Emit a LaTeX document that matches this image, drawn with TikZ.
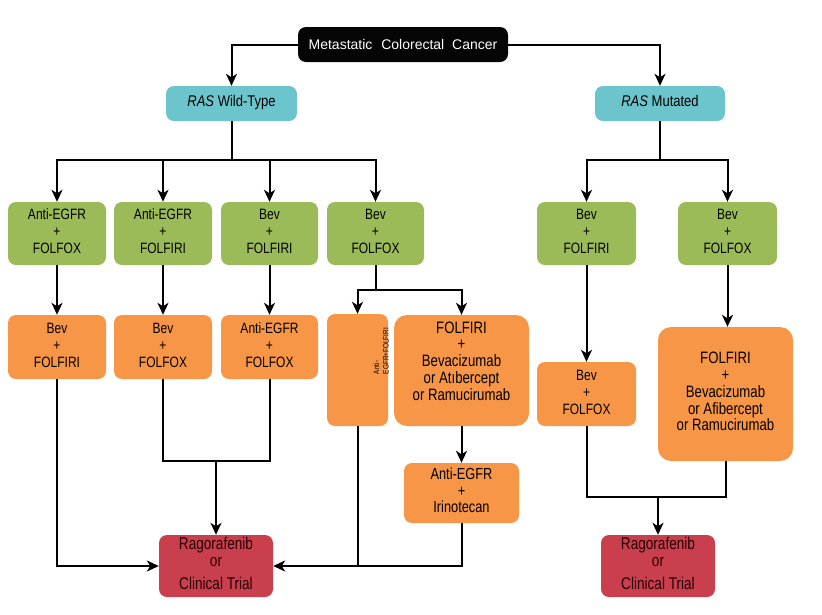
\documentclass[tikz,border=0pt]{standalone}
\usepackage{fontspec}
\setmainfont{Liberation Sans}
\usetikzlibrary{arrows.meta}
\definecolor{topblack}{HTML}{050505}
\definecolor{teal1}{HTML}{6CC5CC}
\definecolor{green1}{HTML}{9BBB59}
\definecolor{orange1}{HTML}{F79646}
\definecolor{red1}{HTML}{C93F4E}
\newcommand{\nar}[2][0.8]{\scalebox{#1}[1]{\begin{tabular}{@{}c@{}}#2\end{tabular}}}
\tikzset{
  box/.style={rounded corners=8pt, inner sep=0pt, align=center, text=black,
    font=\fontsize{15}{17}\selectfont},
  topbox/.style={box, fill=topblack, text=white, font=\fontsize{14}{17}\selectfont},
  rasbox/.style={box, fill=teal1, font=\fontsize{15.5}{17}\selectfont},
  greenbox/.style={box, fill=green1},
  orangebox/.style={box, fill=orange1},
  bigbox/.style={box, fill=orange1, rounded corners=13pt, font=\fontsize{16.5}{16.5}\selectfont},
  redbox/.style={box, fill=red1, text=black!85!red, font=\fontsize{17}{17}\selectfont},
  conn/.style={line width=2pt, black},
  arr/.style={conn, -{Stealth[length=12pt,width=11pt,inset=3.5pt]}},
}
\begin{document}
\begin{tikzpicture}[x=1pt,y=-1pt]
\useasboundingbox (0,0) rectangle (822,614);
% nodes
\node[topbox, minimum width=210pt, minimum height=35pt] (top) at (403,44.5) {Metastatic\hspace{5pt} Colorectal\hspace{4pt} Cancer};
\node[rasbox, minimum width=131pt, minimum height=35pt] (wt) at (231.5,103.5) {\nar[0.84]{\textit{RAS} Wild-Type}};
\node[rasbox, minimum width=130pt, minimum height=35pt] (mut) at (660,103.5) {\nar[0.84]{\textit{RAS} Mutated}};

\node[greenbox, minimum width=98pt, minimum height=63pt] (g1) at (57,233.5) {\nar{Anti-EGFR\\+\\FOLFOX}};
\node[greenbox, minimum width=98pt, minimum height=63pt] (g2) at (163,233.5) {\nar{Anti-EGFR\\+\\FOLFIRI}};
\node[greenbox, minimum width=97pt, minimum height=63pt] (g3) at (269.5,233.5) {\nar{Bev\\+\\FOLFIRI}};
\node[greenbox, minimum width=97pt, minimum height=63pt] (g4) at (375.5,233.5) {\nar{Bev\\+\\FOLFOX}};
\node[greenbox, minimum width=99pt, minimum height=63pt] (g5) at (586.5,233.5) {\nar{Bev\\+\\FOLFIRI}};
\node[greenbox, minimum width=99pt, minimum height=63pt] (g6) at (727.5,233.5) {\nar{Bev\\+\\FOLFOX}};

\node[orangebox, minimum width=98pt, minimum height=64pt] (o1) at (57,347) {\nar{Bev\\+\\FOLFIRI}};
\node[orangebox, minimum width=98pt, minimum height=64pt] (o2) at (163,347) {\nar{Bev\\+\\FOLFOX}};
\node[orangebox, minimum width=97pt, minimum height=64pt] (o3) at (269.5,347) {\nar{Anti-EGFR\\+\\FOLFOX}};
\node[orangebox, minimum width=61pt, minimum height=112pt] (o4) at (357.5,370) {};
\node[rotate=90, inner sep=0pt, font=\fontsize{7.8}{9.5}\selectfont] (o4t) at (382,351) {\scalebox{0.82}[1]{\begin{tabular}{@{}l@{}}Anti-\\EGFR+FOLFIRI\end{tabular}}};
\node[bigbox, minimum width=135pt, minimum height=111pt] (o5) at (461.5,370.5) {\nar{FOLFIRI\\+\\Bevacizumab\\or Atıbercept\\or Ramucirumab\\[14pt]}};
\node[orangebox, minimum width=115pt, minimum height=60pt, font=\fontsize{16}{16.5}\selectfont] (o6) at (461.5,493) {\nar{Anti-EGFR\\+\\Irinotecan}};
\node[orangebox, minimum width=99pt, minimum height=64pt] (o7) at (586.5,394) {\nar{Bev\\+\\FOLFOX}};
\node[bigbox, minimum width=135pt, minimum height=134pt] (o8) at (725.5,394) {\nar{FOLFIRI\\+\\Bevacizumab\\or Afibercept\\or Ramucirumab}};

\node[redbox, minimum width=114pt, minimum height=62pt] (r1) at (216,566) {\nar{Ragorafenib\\or\\[6pt]Clinical Trial}};
\node[redbox, minimum width=114pt, minimum height=62pt] (r2) at (658,566) {\nar{Ragorafenib\\or\\[6pt]Clinical Trial}};

% junction coordinates
\coordinate (bw) at (231.5,160);
\coordinate (bm) at (660,160);
\coordinate (b4) at (375.5,290);
\coordinate (j1) at (216,461);
\coordinate (j2) at (658,497);

% connectors
\draw[arr] (top.west) -| (wt.north);
\draw[arr] (top.east) -| (mut.north);
\draw[conn] (wt.south) -- (bw);
\draw[arr] (bw) -| (g1.north);
\draw[arr] (bw) -| (g2.north);
\draw[arr] (bw) -| (g3.north);
\draw[arr] (bw) -| (g4.north);
\draw[conn] (mut.south) -- (bm);
\draw[arr] (bm) -| (g5.north);
\draw[arr] (bm) -| (g6.north);

\draw[arr] (g1.south) -- (o1.north);
\draw[arr] (g2.south) -- (o2.north);
\draw[arr] (g3.south) -- (o3.north);
\draw[conn] (g4.south) -- (b4);
\draw[arr] (b4) -| (o4.north);
\draw[arr] (b4) -| (o5.north);
\draw[arr] (o5.south) -- (o6.north);
\draw[arr] (g5.south) -- (o7.north);
\draw[arr] (g6.south) -- (g6.south |- o8.north);

\draw[arr] (o1.south) |- (r1.west);
\draw[conn] (o2.south) -- (o2.south |- j1) -- (o3.south |- j1) -- (o3.south);
\draw[arr] (j1) -- (r1.north);
\draw[conn] (o4.south) -- (o4.south |- r1.east);
\draw[arr] (o6.south) |- (r1.east);

\draw[conn] (o7.south) -- (o7.south |- j2) -- (o8.south |- j2) -- (o8.south);
\draw[arr] (j2) -- (r2.north);
\end{tikzpicture}
\end{document}
